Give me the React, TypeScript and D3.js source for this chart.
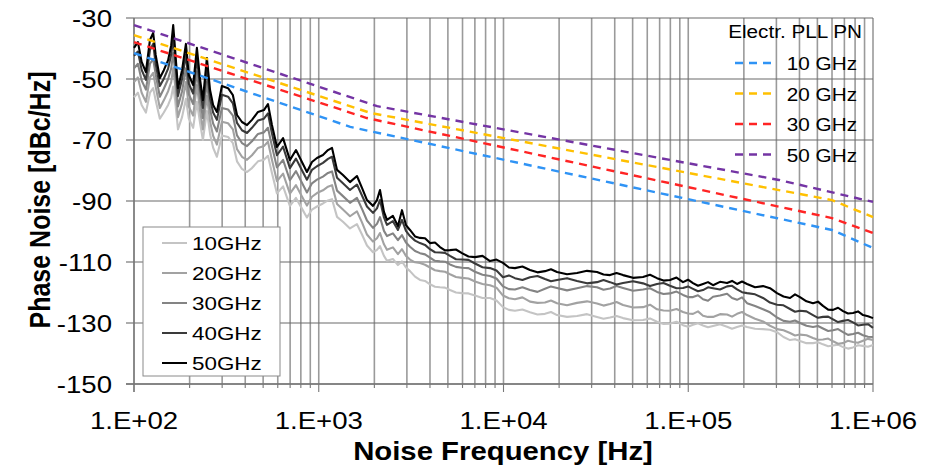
import * as d3 from "d3";

// Noise frequency grid [Hz] shared by the measured curves
const FREQ_HZ = [
  100, 105, 110, 116, 122, 127, 131, 138, 145, 153,
  159, 163, 167, 173, 182, 191, 198, 209, 219, 228,
  236, 248, 258, 268, 281, 299, 323, 343, 361, 384,
  409, 435, 469, 505, 531, 558, 594, 641, 698, 753,
  811, 863, 919, 978, 1054, 1122, 1180, 1256, 1352, 1476,
  1610, 1714, 1824, 1966, 2066, 2145, 2254, 2340, 2520, 2683,
  2822, 2965,
  3118, 3320, 3532, 3760, 4000, 4257, 4530, 4822, 5133, 5530,
  5957, 6462, 7010, 7697, 8450, 9163, 9935, 10700, 11530, 12660,
  13910, 15270, 16770, 18070, 19480, 22070, 25000, 28320, 32070, 34780,
  37720, 40910, 44360, 50240, 56900, 62090, 67760, 73460, 79640, 86380,
  93680, 99700, 106100, 112900, 120200, 127900, 136200, 148600, 162200, 172600,
  183700, 195500, 208100, 229900, 253900, 277000, 302200, 327800, 355500, 378300,
  402500, 436500, 473300, 503700, 536000, 571800, 607800, 646800, 688300, 732500,
  779500, 829600, 883000, 939700, 1000000,
];

// measured phase noise [dBc/Hz]
const PN_10G = [
  -56.0, -54.5, -58.5, -61.0, -54.5, -53.0, -57.0, -63.0, -61.0, -58.5,
  -56.0, -52.5, -57.0, -66.5, -62.5, -56.5, -63.0, -66.0, -57.5, -64.5,
  -70.0, -60.5, -68.0, -72.5, -75.5, -68.5, -69.0, -71.0, -77.0, -79.5,
  -80.5, -79.2, -77.0, -76.5, -75.2, -80.8, -87.5, -85.2, -91.6, -89.0,
  -92.5, -95.4, -92.8, -91.8, -90.8, -89.8, -89.4, -95.2, -96.8, -99.0,
  -97.6, -101.0, -104.6, -106.8, -106.0, -104.8, -108.0, -109.6, -109.0, -111.0,
  -109.8, -111.8,
  -113.0, -114.8, -115.9, -116.2, -117.3, -118.1, -118.3, -118.4, -119.2, -120.0,
  -120.2, -120.3, -121.0, -121.8, -121.8, -122.6, -124.8, -125.7, -126.0, -125.6,
  -126.5, -127.2, -127.0, -126.4, -127.4, -128.0, -127.7, -127.1, -128.0, -128.6,
  -128.2, -127.7, -128.4, -129.1, -129.0, -128.5, -129.6, -130.3, -130.2, -129.6,
  -130.7, -131.2, -130.6, -130.1, -130.8, -131.4, -131.0, -130.4, -131.2, -131.9,
  -131.3, -130.8, -131.3, -131.9, -132.0, -132.2, -133.0, -134.6, -135.6, -135.3,
  -135.9, -136.6, -136.6, -136.3, -137.0, -137.6, -137.4, -137.1, -137.9, -138.4,
  -138.0, -137.3, -137.5, -137.8, -137.2,
];
const PN_20G = [
  -51.0, -49.5, -54.5, -57.5, -49.5, -48.0, -52.5, -59.5, -57.0, -54.0,
  -51.0, -46.5, -52.0, -62.5, -58.0, -51.0, -59.0, -62.0, -52.0, -60.5,
  -66.5, -55.5, -63.8, -68.6, -71.5, -64.0, -64.5, -66.5, -73.0, -75.5,
  -76.5, -75.0, -72.6, -72.0, -70.6, -76.5, -83.5, -81.0, -87.6, -84.8,
  -88.5, -91.5, -88.6, -87.4, -86.5, -85.3, -84.8, -91.0, -92.8, -95.0,
  -93.4, -97.0, -101.0, -103.3, -102.2, -100.5, -104.2, -106.0, -105.2, -107.4,
  -105.8, -108.0,
  -109.2, -110.1, -110.3, -110.9, -111.8, -112.7, -113.0, -113.2, -114.0, -114.9,
  -115.2, -115.4, -116.4, -117.2, -117.6, -118.4, -121.0, -121.9, -122.2, -121.6,
  -123.0, -123.4, -123.3, -122.6, -123.5, -124.2, -123.4, -122.9, -123.6, -124.3,
  -123.8, -123.1, -124.1, -124.9, -124.8, -124.0, -125.5, -125.9, -126.0, -125.4,
  -126.4, -126.9, -127.0, -126.2, -127.6, -128.0, -128.0, -127.1, -127.2, -127.9,
  -127.0, -126.4, -127.4, -128.6, -129.5, -130.9, -132.0, -132.4, -133.3, -134.1,
  -133.8, -134.0, -134.9, -135.5, -135.4, -135.1, -136.0, -136.8, -136.6, -135.8,
  -136.2, -136.5, -135.8, -135.2, -135.6,
];
const PN_30G = [
  -46.5, -45.0, -50.5, -53.5, -45.0, -43.5, -48.5, -55.8, -53.2, -50.0,
  -46.5, -41.5, -47.5, -59.0, -54.0, -46.5, -55.0, -58.2, -47.5, -56.5,
  -62.8, -51.0, -59.8, -64.6, -67.2, -59.5, -60.0, -62.0, -68.5, -71.0,
  -72.0, -70.4, -68.0, -67.5, -66.0, -72.0, -79.0, -76.5, -83.2, -80.2,
  -84.0, -87.2, -84.2, -83.0, -82.0, -80.8, -80.3, -86.6, -88.4, -90.6,
  -89.0, -92.6, -96.4, -98.8, -97.5, -95.3, -99.8, -101.5, -100.6, -102.8,
  -101.2, -103.6,
  -105.0, -106.4, -107.1, -107.5, -108.6, -109.6, -109.8, -109.9, -110.8, -111.6,
  -111.9, -112.0, -113.2, -114.2, -114.6, -115.4, -118.0, -118.9, -119.0, -118.3,
  -119.2, -119.8, -118.8, -118.0, -118.5, -119.3, -118.6, -117.9, -118.3, -119.1,
  -118.7, -117.9, -118.5, -119.4, -119.0, -118.6, -119.8, -120.5, -120.3, -119.7,
  -120.8, -121.5, -121.5, -120.9, -122.2, -122.7, -121.4, -121.0, -120.4, -121.8,
  -122.4, -121.6, -123.5, -124.4, -125.5, -126.5, -128.2, -129.3, -129.6, -129.2,
  -130.0, -130.9, -131.3, -131.0, -131.8, -132.6, -132.4, -132.0, -133.0, -133.9,
  -133.6, -133.2, -134.0, -134.5, -134.6,
];
const PN_40G = [
  -42.4, -41.0, -47.0, -50.3, -40.5, -38.5, -45.0, -52.3, -49.9, -46.6,
  -42.0, -36.5, -43.5, -55.6, -50.0, -42.0, -51.5, -54.8, -43.0, -53.0,
  -59.5, -46.5, -56.3, -61.0, -63.4, -55.2, -55.8, -58.0, -64.4, -66.8,
  -67.7, -66.0, -63.6, -63.0, -61.3, -67.8, -75.0, -72.2, -79.2, -76.1,
  -79.9, -83.0, -79.8, -78.6, -77.5, -76.2, -75.5, -82.4, -84.2, -86.4,
  -84.6, -88.2, -91.8, -93.9, -92.4, -89.7, -95.4, -97.8, -96.6, -99.5,
  -96.2, -99.8,
  -101.5, -103.0, -103.8, -104.4, -105.8, -106.8, -106.9, -107.0, -108.0, -109.1,
  -109.2, -109.3, -110.5, -111.7, -112.0, -112.8, -115.0, -114.4, -115.3, -115.9,
  -115.0, -114.6, -115.6, -116.3, -115.9, -115.3, -116.2, -117.0, -116.6, -115.9,
  -116.6, -117.4, -116.9, -116.3, -117.0, -117.9, -117.2, -116.9, -117.8, -118.6,
  -118.5, -118.0, -118.8, -119.6, -119.2, -118.3, -118.6, -119.0, -118.0, -117.8,
  -119.0, -119.9, -120.2, -120.6, -121.8, -123.3, -124.0, -124.2, -125.4, -126.3,
  -126.0, -126.2, -127.4, -128.3, -128.0, -127.9, -128.8, -129.7, -129.3, -129.0,
  -129.8, -130.8, -130.6, -130.4, -131.6,
];
const PN_50G = [
  -39.8, -37.9, -44.4, -47.7, -37.2, -34.9, -42.1, -49.7, -47.1, -43.8,
  -38.9, -32.3, -40.5, -53.0, -47.1, -38.5, -48.7, -52.0, -39.8, -50.3,
  -56.9, -43.1, -53.6, -58.5, -60.8, -52.3, -53.0, -55.3, -61.8, -64.1,
  -65.1, -63.4, -60.8, -60.2, -58.2, -65.1, -72.3, -69.4, -76.6, -73.3,
  -77.2, -80.5, -77.2, -75.9, -74.9, -73.3, -72.6, -79.8, -81.5, -83.8,
  -81.8, -85.7, -89.7, -91.6, -89.7, -86.4, -93.6, -96.2, -94.9, -98.2,
  -93.0, -97.9,
  -99.5, -101.6, -102.1, -102.2, -103.8, -103.6, -105.1, -106.2, -106.1, -105.9,
  -107.1, -108.2, -108.4, -108.0, -109.7, -109.2, -110.3, -111.8, -112.0, -111.5,
  -112.6, -113.4, -113.0, -112.4, -113.3, -114.0, -113.6, -112.9, -113.3, -114.1,
  -114.3, -113.6, -114.3, -115.2, -114.9, -114.2, -115.3, -116.1, -115.9, -115.1,
  -116.6, -115.8, -116.9, -117.8, -117.2, -116.6, -117.6, -116.5, -116.9, -116.2,
  -117.2, -116.4, -117.2, -118.3, -117.9, -118.6, -120.2, -121.3, -121.8, -120.6,
  -121.5, -122.9, -123.5, -123.0, -124.4, -125.6, -125.7, -125.0, -126.1, -126.9,
  -126.7, -126.2, -127.4, -127.8, -128.4,
];

// electrical PLL phase noise (dashed), [Hz] and [dBc/Hz] breakpoints
const PLL_10G_F = [100, 1480, 600000, 1000000];
const PLL_10G = [-41.5, -65.7, -99.5, -105.4];
const PLL_20G_F = [100, 1900, 600000, 1000000];
const PLL_20G = [-35.6, -61.1, -89.7, -95.3];
const PLL_30G_F = [100, 1820, 600000, 1000000];
const PLL_30G = [-37.9, -62.8, -95.6, -100.5];
const PLL_50G_F = [100, 2070, 310000, 1000000];
const PLL_50G = [-32.3, -58.9, -83.1, -90.3];

const Y_TICKS = [-150, -130, -110, -90, -70, -50, -30];
const X_DECADES = [1e2, 1e3, 1e4, 1e5, 1e6];
const X_LABELS = ["1.E+02", "1.E+03", "1.E+04", "1.E+05", "1.E+06"];

const measured = [
  { name: "10GHz", values: PN_10G, color: "#c4c4c4" },
  { name: "20GHz", values: PN_20G, color: "#a2a2a2" },
  { name: "30GHz", values: PN_30G, color: "#848484" },
  { name: "40GHz", values: PN_40G, color: "#3a3a3a" },
  { name: "50GHz", values: PN_50G, color: "#000000" },
];

const pll = [
  { name: "10 GHz", f: PLL_10G_F, values: PLL_10G, color: "#2f93f5" },
  { name: "20 GHz", f: PLL_20G_F, values: PLL_20G, color: "#ffc000" },
  { name: "30 GHz", f: PLL_30G_F, values: PLL_30G, color: "#ff2424" },
  { name: "50 GHz", f: PLL_50G_F, values: PLL_50G, color: "#7434a4" },
];

const FONT = "'Liberation Sans', Arial, sans-serif";

// text slightly stretched horizontally, like the source picture
function SText({ x, y, sx = 1.15, size, anchor = "start", weight = "normal", rotate = 0, children }) {
  return (
    <text
      transform={`translate(${x},${y}) scale(${sx},1)${rotate ? ` rotate(${rotate})` : ""}`}
      fontSize={size}
      fontFamily={FONT}
      fontWeight={weight}
      textAnchor={anchor}
      fill="#000"
    >
      {children}
    </text>
  );
}

export default function App() {
  const width = 943;
  const height = 465;
  const left = 134;
  const right = 873;
  const top = 18;
  const bottom = 384;

  const x = d3.scaleLog().domain([1e2, 1e6]).range([left, right]);
  const y = d3.scaleLinear().domain([-150, -30]).range([bottom, top]);

  const line = d3
    .line<[number, number]>()
    .x((d) => x(d[0]))
    .y((d) => y(d[1]));

  const gridX = x.ticks();

  return (
    <svg
      width={width}
      height={height}
      viewBox={`0 0 ${width} ${height}`}
      style={{ position: "absolute", left: 0, top: 0, background: "#fff" }}
    >
      <rect width={width} height={height} fill="#fff" />

      {/* grid */}
      {gridX.map((f) => (
        <line key={"gx" + f} x1={x(f)} x2={x(f)} y1={top} y2={bottom} stroke="#9a9a9a" strokeWidth={1.6} />
      ))}
      {Y_TICKS.map((t) => (
        <line key={"gy" + t} x1={left} x2={right} y1={y(t)} y2={y(t)} stroke="#6a6a6a" strokeWidth={1.2} />
      ))}

      {/* axes */}
      <line x1={left} x2={left} y1={top} y2={bottom + 8} stroke="#777" strokeWidth={1.3} />
      <line x1={left - 8} x2={right} y1={bottom} y2={bottom} stroke="#777" strokeWidth={1.3} />
      {Y_TICKS.map((t) => (
        <line key={"ty" + t} x1={left - 8} x2={left} y1={y(t)} y2={y(t)} stroke="#777" strokeWidth={1.2} />
      ))}
      {gridX.map((f) => {
        const major = X_DECADES.includes(f);
        return (
          <line key={"tx" + f} x1={x(f)} x2={x(f)} y1={bottom} y2={bottom + (major ? 8 : 4)} stroke="#777" strokeWidth={1.1} />
        );
      })}

      {/* measured curves */}
      {measured.map((s) => (
        <path
          key={s.name}
          d={line(FREQ_HZ.map((f, i) => [f, s.values[i]]))}
          fill="none"
          stroke={s.color}
          strokeWidth={2.1}
          strokeLinejoin="round"
        />
      ))}

      {/* PLL dashed */}
      {pll.map((s) => (
        <path
          key={s.name}
          d={line(s.f.map((f, i) => [f, s.values[i]]))}
          fill="none"
          stroke={s.color}
          strokeWidth={2.4}
          strokeDasharray="8,6"
        />
      ))}

      {/* tick labels */}
      {Y_TICKS.map((t) => (
        <SText key={"ly" + t} x={112} y={y(t) + 8.5} size={24} anchor="end">
          {t}
        </SText>
      ))}
      {X_DECADES.map((f, i) => (
        <SText key={"lx" + f} x={x(f)} y={429} size={24} anchor="middle">
          {X_LABELS[i]}
        </SText>
      ))}

      {/* axis titles */}
      <SText x={503} y={460} size={25.5} anchor="middle" weight="bold">
        Noise Frequency [Hz]
      </SText>
      <SText x={50} y={200} size={25} anchor="middle" weight="bold" rotate={-90}>
        Phase Noise [dBc/Hz]
      </SText>

      {/* PLL legend */}
      <SText x={862} y={38} size={18.5} sx={1.12} anchor="end">
        Electr. PLL PN
      </SText>
      {pll.map((s, i) => {
        const ly = 63 + i * 30.5;
        return (
          <g key={"lp" + s.name}>
            <line x1={735} x2={777} y1={ly} y2={ly} stroke={s.color} strokeWidth={2.4} strokeDasharray="8,6" />
            <SText x={857} y={ly + 7} size={18.5} sx={1.12} anchor="end">
              {s.name}
            </SText>
          </g>
        );
      })}

      {/* measured legend */}
      <rect x={143} y={227} width={137} height={149} fill="#fff" stroke="#8a8a8a" strokeWidth={1} />
      {measured.map((s, i) => {
        const ly = 243 + i * 30;
        return (
          <g key={"lm" + s.name}>
            <line x1={162} x2={187} y1={ly} y2={ly} stroke={s.color} strokeWidth={2} />
            <SText x={192} y={ly + 7} size={19} sx={1.18}>
              {s.name}
            </SText>
          </g>
        );
      })}
    </svg>
  );
}
